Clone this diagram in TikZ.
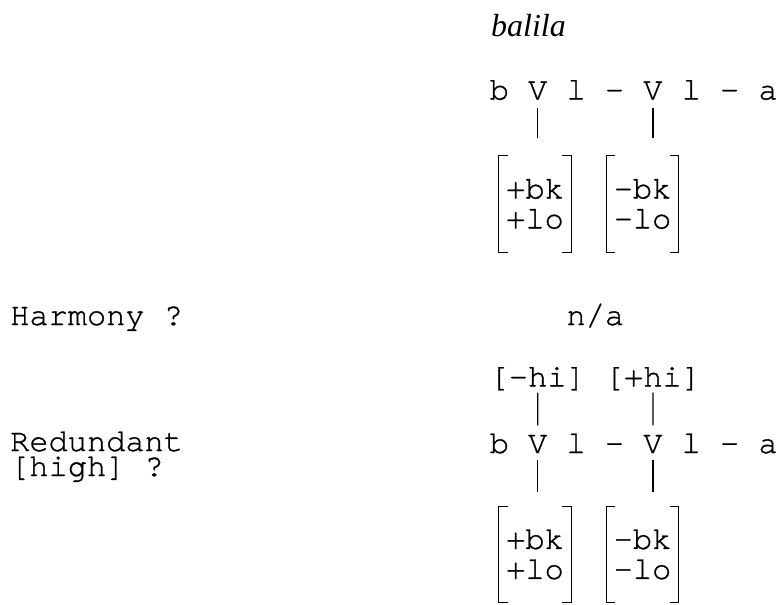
\documentclass[tikz,border=0pt]{standalone}
\usepackage{fontspec}
\setmainfont{Liberation Serif}
\setmonofont[FakeBold=1]{texgyrecursor-regular.otf}
\usetikzlibrary{calc}
\newcommand{\colw}{19.2}

\begin{document}
\begin{tikzpicture}[x=1pt,y=-1pt,
		seg/.style={font=\ttfamily\fontsize{32}{30}\selectfont, inner sep=0pt, anchor=base west},
		feat/.style={font=\ttfamily\fontsize{32}{30}\selectfont, inner sep=0pt, align=left, minimum width=72pt, minimum height=96pt},
		assoc/.style={line width=1.2pt},
		brak/.style={line width=1.2pt}] %balila, zweimal
			\useasboundingbox (0,0) rectangle (780,605);

			\node[anchor=base west, inner sep=0pt, font=\itshape\fontsize{32}{36}\selectfont] (word) at (491,36) {balila};

			% obere Zeile
			\node[seg] (b1) at (489.5,99.5) {b};
			\node[seg] (v1) at (489.5+2*\colw,99.5) {V};
			\node[seg] (l1) at (489.5+4*\colw,99.5) {l -};
			\node[seg] (v2) at (489.5+8*\colw,99.5) {V};
			\node[seg] (l2) at (489.5+10*\colw,99.5) {l - a};

			\node[feat] (fa1) at (535,204) {+bk\\+lo};
			\node[feat] (fb1) at (642.5,204) {-bk\\-lo};

			\draw[assoc, shorten <=8pt, shorten >=18pt] (v1) -- (v1 |- fa1.north);
			\draw[assoc, shorten <=8pt, shorten >=18pt] (v2) -- (v2 |- fb1.north);

			\node[seg] (harm) at (10,325) {Harmony ?};
			\node[seg] (na) at (489.5+4*\colw,325) {n/a};

			% untere Zeile
			\node[seg] (h1) at (489.5,386.5) {[-hi]};
			\node[seg] (h2) at (489.5+6*\colw,386.5) {[+hi]};

			\node[seg, align=left, font=\ttfamily\fontsize{32}{25}\selectfont] (red) at (10,476) {Redundant\\{}[high] ?};
			\node[seg] (b3) at (489.5,453) {b};
			\node[seg] (v3) at (489.5+2*\colw,453) {V};
			\node[seg] (l3) at (489.5+4*\colw,453) {l -};
			\node[seg] (v4) at (489.5+8*\colw,453) {V};
			\node[seg] (l4) at (489.5+10*\colw,453) {l - a};

			\node[feat] (fa2) at (535,554.5) {+bk\\+lo};
			\node[feat] (fb2) at (642.5,554.5) {-bk\\-lo};

			\draw[assoc, shorten <=2pt, shorten >=9.5pt] (h1.south) -- (v3.north);
			\draw[assoc, shorten <=2pt, shorten >=9.5pt] (h2.south) -- (v4.north);
			\draw[assoc, shorten <=7pt, shorten >=14.5pt] (v3) -- (v3 |- fa2.north);
			\draw[assoc, shorten <=7pt, shorten >=14.5pt] (v4) -- (v4 |- fb2.north);

			% Klammern
			\draw[brak] ([xshift=9pt]fa1.north west) -- (fa1.north west) -- (fa1.south west) -- ([xshift=9pt]fa1.south west);
			\draw[brak] ([xshift=-9pt]fa1.north east) -- (fa1.north east) -- (fa1.south east) -- ([xshift=-9pt]fa1.south east);
			\draw[brak] ([xshift=9pt]fb1.north west) -- (fb1.north west) -- (fb1.south west) -- ([xshift=9pt]fb1.south west);
			\draw[brak] ([xshift=-9pt]fb1.north east) -- (fb1.north east) -- (fb1.south east) -- ([xshift=-9pt]fb1.south east);
			\draw[brak] ([xshift=9pt]fa2.north west) -- (fa2.north west) -- (fa2.south west) -- ([xshift=9pt]fa2.south west);
			\draw[brak] ([xshift=-9pt]fa2.north east) -- (fa2.north east) -- (fa2.south east) -- ([xshift=-9pt]fa2.south east);
			\draw[brak] ([xshift=9pt]fb2.north west) -- (fb2.north west) -- (fb2.south west) -- ([xshift=9pt]fb2.south west);
			\draw[brak] ([xshift=-9pt]fb2.north east) -- (fb2.north east) -- (fb2.south east) -- ([xshift=-9pt]fb2.south east);
		\end{tikzpicture}
\end{document}
